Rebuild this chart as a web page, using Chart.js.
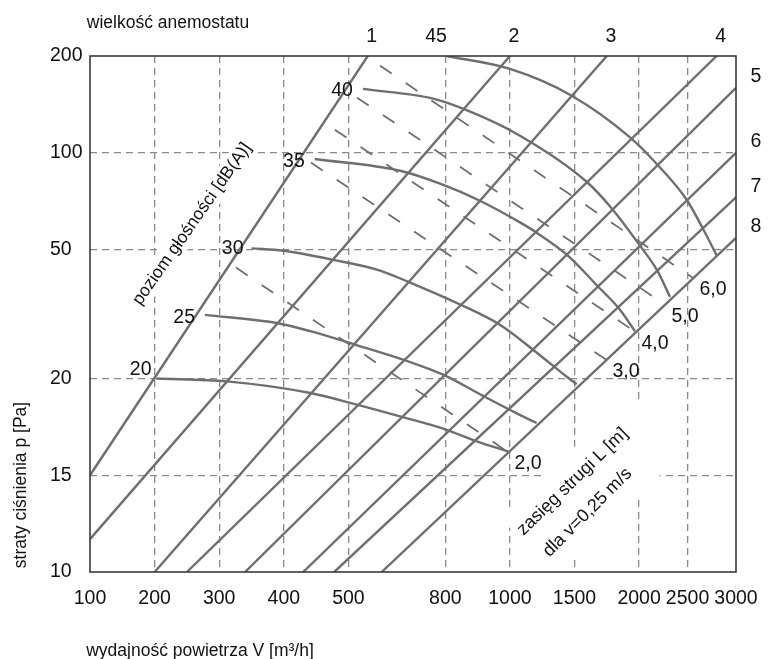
<!DOCTYPE html>
<html>
<head>
<meta charset="utf-8">
<script src="https://cdn.jsdelivr.net/npm/chart.js@4/dist/chart.umd.min.js"></script>
<style>
  html, body { margin: 0; padding: 0; background: #fff; }
</style>
</head>
<body>
<canvas id="chart" width="776" height="659"></canvas>
<script>
// printed scales are not uniform: every tick gets its own step on the axis
const xTicks = [100, 200, 300, 400, 500, 800, 1000, 1500, 2000, 2500, 3000];
const xTickSteps = [0, 1, 2, 3, 4, 5.5, 6.5, 7.5, 8.5, 9.25, 10];
const yTicks = [10, 15, 20, 50, 100, 200];
const yTickSteps = [0, 3, 6, 10, 13, 16];

// anemostat size lines, [V m3/h, p Pa] at both ends
const sizeLabels = ['1', '2', '3', '4', '5', '6', '7', '8'];
const sizeStart = [[100, 15], [100, 11.7], [200, 10], [250, 10], [340, 10], [430, 10], [478, 10], [603, 10]];
const sizeEnd = [[560, 200], [1000, 200], [1750, 200], [2800, 200], [3000, 167], [3000, 100], [3000, 77], [3000, 56]];

// sound level curves dB(A)
const noiseLabels = ['20', '25', '30', '35', '40', '45'];
const noise20 = [[203, 20], [312, 19.85], [441, 19.25], [526, 18.65], [660, 18.04], [804, 17.35], [897, 16.75], [995, 16.23]];
const noise25 = [[278, 34.8], [389, 32.9], [441, 31.0], [520, 27.9], [669, 24.4], [793, 20.9], [917, 19.1], [1053, 18.2], [1207, 17.7]];
const noise30 = [[350, 50.6], [399, 49.7], [476, 47.6], [598, 45.1], [691, 42.3], [846, 37.2], [969, 32.5], [1179, 26.7], [1440, 20.4], [1517, 19.7]];
const noise35 = [[448, 96.8], [660, 90.7], [784, 84.0], [907, 75.2], [1078, 64.0], [1207, 58.7], [1440, 48.8], [1682, 41.4], [1852, 36.0], [1968, 31.0]];
const noise40 = [[545, 166], [762, 156], [855, 145.5], [1078, 117.6], [1594, 85.0], [1790, 71.1], [2009, 52.0], [2182, 45.3], [2319, 39.0]];
const noise45 = [[805, 200], [1001, 186.6], [1478, 159], [1930, 115.9], [2182, 94.2], [2491, 75.7], [2659, 60.7], [2801, 48.6]];
const noiseCurves = [noise20, noise25, noise30, noise35, noise40, noise45];

// throw L [m] at v=0.25 m/s (dashed)
const throwLabels = ['2,0', '3,0', '4,0', '5,0', '6,0'];
const throwStart = [[326, 45.8], [442, 94.9], [479, 123.8], [527, 156.9], [598, 190]];
const throwEnd = [[994, 16.2], [1744, 24.4], [1968, 30.9], [2267, 37.2], [2556, 43.4]];

const FONT = '"Liberation Sans", Arial, sans-serif';
const LINE = '#6e6e6e';

function toStep(v, ticks, steps) {
  let i = 0;
  while (i < ticks.length - 2 && v > ticks[i + 1]) i++;
  return steps[i] + (v - ticks[i]) / (ticks[i + 1] - ticks[i]) * (steps[i + 1] - steps[i]);
}
const pt = ([v, p]) => ({ x: toStep(v, xTicks, xTickSteps), y: toStep(p, yTicks, yTickSteps) });

const datasets = [];
sizeLabels.forEach((s, i) => {
  datasets.push({ data: [pt(sizeStart[i]), pt(sizeEnd[i])], borderColor: LINE, borderWidth: 2.4 });
});
noiseCurves.forEach(c => {
  datasets.push({ data: c.map(pt), borderColor: LINE, borderWidth: 2.4, cubicInterpolationMode: 'monotone' });
});
throwLabels.forEach((s, i) => {
  datasets.push({ data: [pt(throwStart[i]), pt(throwEnd[i])], borderColor: LINE, borderWidth: 1.8, borderDash: [14, 17] });
});

function put(ctx, str, x, y, size, align, angle) {
  ctx.save();
  ctx.translate(x, y);
  if (angle) ctx.rotate(angle * Math.PI / 180);
  ctx.font = size + 'px ' + FONT;
  ctx.textAlign = align || 'center';
  ctx.textBaseline = 'middle';
  ctx.fillStyle = '#111';
  ctx.fillText(str, 0, 0);
  ctx.restore();
}
function blank(ctx, x, y, angle, u0, u1, h) {
  ctx.save();
  ctx.translate(x, y);
  ctx.rotate(angle * Math.PI / 180);
  ctx.fillStyle = '#fff';
  ctx.fillRect(u0, -h, u1 - u0, 2 * h);
  ctx.restore();
}

const noiseLabelOffset = [[-5, -9], [-10, 3], [-8, 0], [-10, 3], [-10, 2], [0, -19]];

const nomogram = {
  id: 'nomogram',
  beforeDatasetsDraw(chart) {
    const ctx = chart.ctx;
    ctx.save();
    ctx.font = '17.5px ' + FONT;
    const w = ctx.measureText('poziom głośności [dB(A)]').width;
    blank(ctx, 192, 224, -55, -w / 2 - 4, w / 2 + 4, 11);
    blank(ctx, 580, 497, -44, -72, 108, 40);
    ctx.restore();
  },
  afterDatasetsDraw(chart) {
    const { ctx, chartArea: a, scales: { x, y } } = chart;
    const px = d => x.getPixelForValue(pt(d).x);
    const py = d => y.getPixelForValue(pt(d).y);
    ctx.save();
    ctx.strokeStyle = '#3a3a3a';
    ctx.lineWidth = 1.6;
    ctx.strokeRect(a.left, a.top, a.right - a.left, a.bottom - a.top);

    sizeLabels.forEach((s, i) => {
      const e = sizeEnd[i];
      if (e[1] >= yTicks[yTicks.length - 1]) put(ctx, s, px(e) + 4, a.top - 19, 19.5);
      else put(ctx, s, a.right + 20, py(e) - 11, 19.5);
    });
    noiseLabels.forEach((s, i) => {
      const st = noiseCurves[i][0];
      const o = noiseLabelOffset[i];
      put(ctx, s, px(st) + o[0], py(st) + o[1], 19.5, 'right');
    });
    throwLabels.forEach((s, i) => {
      const e = throwEnd[i];
      put(ctx, s, px(e) + 20, py(e) + 12, 19.5);
    });

    put(ctx, 'wielkość anemostatu', 168, 23, 17.5);
    put(ctx, 'poziom głośności [dB(A)]', 192, 224, 17.5, 'center', -55);
    put(ctx, 'zasięg strugi L [m]', 572.5, 481.7, 18, 'center', -44);
    put(ctx, 'dla v=0,25 m/s', 587.5, 512.5, 18, 'center', -45);
    put(ctx, 'straty ciśnienia p [Pa]', 21, 485, 17.5, 'center', -90);
    put(ctx, 'wydajność powietrza V [m³/h]', 200, 651, 17.5);
    ctx.restore();
  }
};

const gridColor = c => (c.index === 0 || c.index === c.scale.ticks.length - 1) ? 'rgba(0,0,0,0)' : '#8a8a8a';

new Chart(document.getElementById('chart'), {
  type: 'scatter',
  data: { datasets: datasets.map(d => Object.assign({ showLine: true, pointRadius: 0, fill: false }, d)) },
  options: {
    responsive: false,
    animation: false,
    layout: { padding: { left: 50, top: 56, right: 40, bottom: 0 } },
    plugins: { legend: { display: false }, tooltip: { enabled: false } },
    scales: {
      x: {
        type: 'linear', min: 0, max: 10,
        afterBuildTicks: s => { s.ticks = xTickSteps.map(v => ({ value: v })); },
        afterFit: s => { s.height = 87; },
        ticks: {
          autoSkip: false, maxRotation: 0, padding: 15, color: '#111',
          font: { family: FONT, size: 19.5 },
          callback: (v, i) => String(xTicks[i])
        },
        grid: { color: gridColor, lineWidth: 1.3, drawTicks: false },
        border: { display: false, dash: [7, 5] }
      },
      y: {
        type: 'linear', min: 0, max: 16,
        afterBuildTicks: s => { s.ticks = yTickSteps.map(v => ({ value: v })); },
        afterFit: s => { s.width = 40; },
        ticks: {
          autoSkip: false, crossAlign: 'far', color: '#111',
          font: { family: FONT, size: 19.5 },
          callback: (v, i) => String(yTicks[i])
        },
        grid: { color: gridColor, lineWidth: 1.3, drawTicks: false },
        border: { display: false, dash: [7, 5] }
      }
    }
  },
  plugins: [nomogram]
});
</script>
</body>
</html>
